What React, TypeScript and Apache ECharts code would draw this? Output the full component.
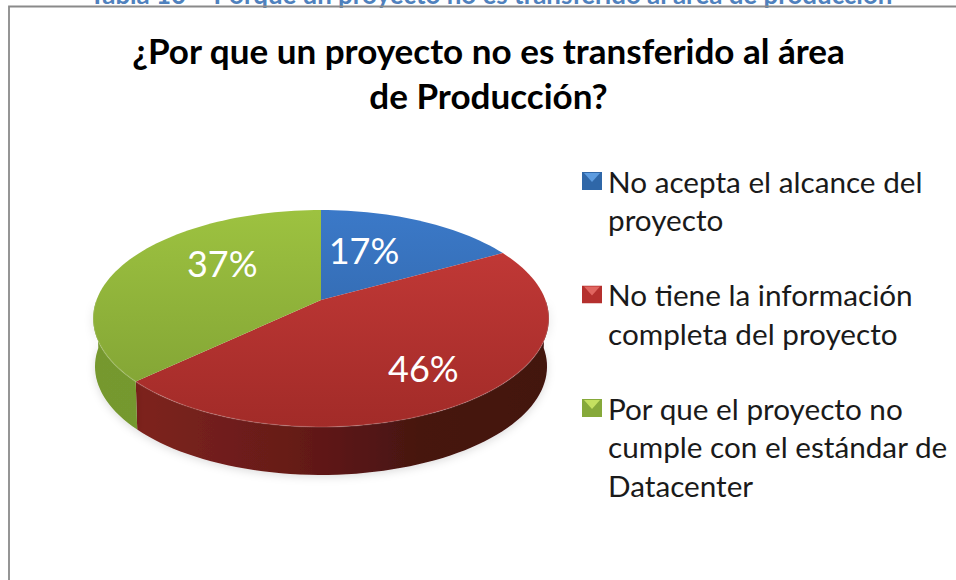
import React, { useEffect, useRef } from "react";
import * as echarts from "echarts";

const captionText = "Tabla 10 – Porque un proyecto no es transferido al área de producción";
const titleLines = ["¿Por que un proyecto no es transferido al área", "de Producción?"];
const categories = [
  "No acepta el alcance del proyecto",
  "No tiene la información completa del proyecto",
  "Por que el proyecto no cumple con el estándar de Datacenter",
];
const legendLines = [
  ["No acepta el alcance del", "proyecto"],
  ["No tiene la información", "completa del proyecto"],
  ["Por que el proyecto no", "cumple con el estándar de", "Datacenter"],
];
const values = [17, 46, 37];

// Look of each slice
const topStops = [["#3b79c8", "#2d5f9e"], ["#c73b39", "#a22b28"], ["#9dc240", "#7e9f33"]];
const sideStops = [
  ["#2a5a94", "#2a5a94", "#1f426e", "#1f426e"],
  ["#84261f", "#651a18", "#461210", "#431210"],
  ["#76982f", "#6f9a30", "#6f9a30", "#6f9a30"],
];
const swatchStops = [["#2f67a8", "#5d9ce0"], ["#b5302e", "#e06560"], ["#86a93a", "#c4e060"]];
// Label nudges relative to the slice's mid-point
const labelShift = [[-20, 0], [16, 12], [20, -13]];

const CX = 321, CY = 300, B = 224.5, A = 105.3, K = -0.1705, DEPTH = 48, LABEL_R = 0.6;

function project(frac: number, r = 1): [number, number] {
  const phi = frac * 2 * Math.PI;
  const u = Math.sin(phi) * r;
  const v = -Math.cos(phi) * r;
  const w = 1 + K * v;
  return [CX + (B * u) / w, CY + (A * v) / w];
}

function swatchUrl(i: number): string {
  const [dark, light] = swatchStops[i];
  const svg =
    `<svg xmlns="http://www.w3.org/2000/svg" width="20" height="18">` +
    `<rect width="20" height="18" fill="${dark}"/>` +
    `<polygon points="2,1 18,1 10,10" fill="${light}"/></svg>`;
  return "data:image/svg+xml," + encodeURIComponent(svg);
}

export default function App() {
  const ref = useRef<HTMLDivElement>(null);
  useEffect(() => {
    document.body.style.margin = "0";
    document.body.style.overflow = "hidden";
    const chart = echarts.init(ref.current!, null, { renderer: "svg" });
    const total = values.reduce((a, b) => a + b, 0);
    const starts = values.map((_, i) => values.slice(0, i).reduce((a, b) => a + b, 0) / total);

    const series = categories.map((name, i) => ({
      type: "custom",
      name,
      coordinateSystem: "none",
      silent: true,
      data: [[starts[i], values[i] / total, values[i]]],
      renderItem: (_p: any, api: any) => {
        const s = api.value(0), f = api.value(1), val = api.value(2);
        const steps = Math.max(8, Math.round(f * 180));
        const rim: [number, number][] = [];
        for (let k = 0; k <= steps; k++) rim.push(project(s + (f * k) / steps));
        const children: any[] = [];
        // side wall: only the front half of the rim
        const a0 = Math.max(s, 0.25), a1 = Math.min(s + f, 0.75);
        if (a1 > a0) {
          const n = Math.max(8, Math.round((a1 - a0) * 180));
          const up: [number, number][] = [];
          const down: [number, number][] = [];
          for (let k = 0; k <= n; k++) {
            const [x, y] = project(a0 + ((a1 - a0) * k) / n);
            up.push([x, y]);
            down.unshift([CX + (x - CX) * 0.992, y + DEPTH]);
          }
          children.push({
            type: "polygon",
            z2: 1,
            shape: { points: up.concat(down) },
            style: {
              fill: new echarts.graphic.LinearGradient(95, 0, 549, 0, [
                { offset: 0, color: sideStops[i][0] },
                { offset: 0.45, color: sideStops[i][1] },
                { offset: 0.72, color: sideStops[i][2] },
                { offset: 1, color: sideStops[i][3] },
              ], true),
              shadowBlur: 8,
              shadowColor: "rgba(0,0,0,0.14)",
              shadowOffsetY: 2,
            },
          });
          children.push({
            type: "polyline",
            z2: 3,
            shape: { points: up },
            style: { fill: "none", stroke: "rgba(255,255,255,0.13)", lineWidth: 1.5 },
          });
        }
        children.push({
          type: "polygon",
          z2: 2,
          shape: { points: [[CX, CY] as [number, number]].concat(rim) },
          style: {
            fill: new echarts.graphic.LinearGradient(0, 210, 0, 427, [
              { offset: 0, color: topStops[i][0] },
              { offset: 1, color: topStops[i][1] },
            ], true),
          },
        });
        const [lx, ly] = project(s + f / 2, LABEL_R);
        children.push({
          type: "text",
          z2: 5,
          style: {
            text: `${val}%`,
            x: lx + labelShift[i][0],
            y: ly + labelShift[i][1],
            fill: "#ffffff",
            font: "36px Lato",
            textAlign: "center",
            textVerticalAlign: "middle",
          },
        });
        return { type: "group", children };
      },
    }));

    const rich: any = {
      g: { width: 6, height: 18 },
      b: { width: 26, height: 18 },
      t: { fontFamily: "Lato", fontSize: 29.7, lineHeight: 38.5, color: "#1a1a1a" },
    };
    categories.forEach((_, i) => {
      rich["s" + i] = { width: 20, height: 18, backgroundColor: { image: swatchUrl(i) } };
    });

    chart.setOption({
      animation: false,
      backgroundColor: "#ffffff",
      title: [
        {
          text: captionText,
          left: 486,
          top: -24,
          textAlign: "center",
          textStyle: { fontFamily: "Lato", fontWeight: "bold", fontSize: 25.9, color: "#4f81bd" },
        },
        {
          text: titleLines.join("\n"),
          left: 483.5,
          top: 22,
          textAlign: "center",
          textStyle: { fontFamily: "Lato", fontWeight: "bold", fontSize: 35.05, lineHeight: 45, color: "#000000" },
        },
      ],
      legend: {
        orient: "vertical",
        left: 577,
        top: 166,
        padding: 0,
        itemWidth: 0,
        itemHeight: 0,
        itemGap: 45,
        selectedMode: false,
        data: categories,
        formatter: (name: string) => {
          const i = categories.indexOf(name);
          return legendLines[i]
            .map((l, k) => (k === 0 ? `{s${i}|}{g|}{t|${l}}` : `{b|}{t|${l}}`))
            .join("\n");
        },
        textStyle: { rich },
      },
      graphic: [
        {
          type: "polyline",
          z: 10,
          shape: { points: [[9, 580], [9, 6.5], [956, 6.5]] },
          style: { fill: "none", stroke: "#8a8a8a", lineWidth: 1.8 },
        },
      ],
      series,
    });
    return () => chart.dispose();
  }, []);
  return <div ref={ref} style={{ position: "absolute", left: 0, top: 0, width: 956, height: 580 }} />;
}
